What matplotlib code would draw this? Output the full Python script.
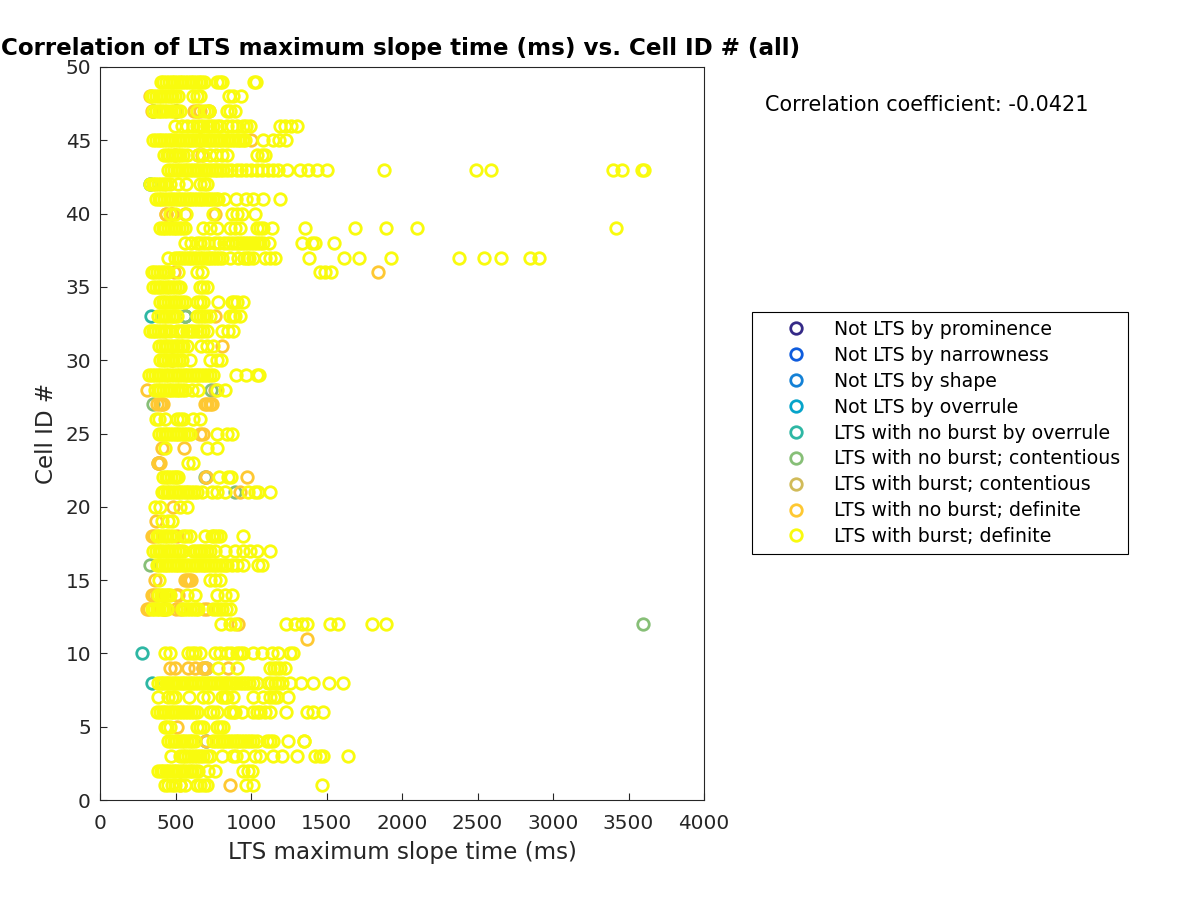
import matplotlib
matplotlib.use("Agg")
import matplotlib.pyplot as plt

title_text = "Correlation of LTS maximum slope time (ms) vs. Cell ID # (all)"
x_label = "LTS maximum slope time (ms)"
y_label = "Cell ID #"
corr_text = "Correlation coefficient: -0.0421"
x_ticks = [0, 500, 1000, 1500, 2000, 2500, 3000, 3500, 4000]
y_ticks = [0, 5, 10, 15, 20, 25, 30, 35, 40, 45, 50]

labels = ["Not LTS by prominence", "Not LTS by narrowness", "Not LTS by shape",
          "Not LTS by overrule", "LTS with no burst by overrule",
          "LTS with no burst; contentious", "LTS with burst; contentious",
          "LTS with no burst; definite", "LTS with burst; definite"]
colors = ["#352a87", "#0f5cdd", "#1481d6", "#06a4ca", "#2eb7a4",
          "#87bf77", "#d1bb59", "#fec832", "#f9fb0e"]

# Sparse classes: (time, cell id)
overrule_nb_t = [335, 280, 342, 331, 350, 700, 560]
overrule_nb_id = [33, 10, 8, 42, 47, 4, 33]
contentious_nb_t = [3595, 563, 353, 735, 697, 894, 331, 503, 700, 393, 560]
contentious_nb_id = [12, 33, 27, 28, 22, 21, 16, 47, 9, 23, 33]
contentious_b_t = [500, 680, 700, 430, 385, 760]
contentious_b_id = [47, 9, 22, 13, 23, 28]
definite_nb_t = [331, 342, 640, 660, 497, 440, 651, 673, 1839, 761, 810, 309, 375, 395, 408, 420,
                 695, 710, 728, 745, 662, 684, 408, 558, 386, 400, 702, 971, 927, 486, 371, 342,
                 355, 508, 364, 563, 575, 590, 605, 342, 358, 375, 500, 515, 309, 325, 420, 505,
                 690, 710, 916, 1371, 464, 497, 585, 629, 680, 700, 850, 508, 440, 470, 480, 560,
                 490, 861, 530, 700, 1000, 620, 660, 720, 475, 760, 530]
definite_nb_id = [48, 47, 47, 45, 44, 40, 44, 44, 36, 33, 31, 28, 27, 27, 27, 27,
                  27, 27, 27, 27, 25, 25, 24, 24, 23, 23, 22, 22, 21, 20, 19, 18,
                  18, 18, 15, 15, 15, 15, 15, 14, 14, 14, 14, 14, 13, 13, 13, 13,
                  13, 13, 12, 11, 9, 9, 9, 9, 9, 9, 9, 5, 40, 40, 40, 40,
                  36, 1, 1, 4, 45, 47, 47, 47, 30, 40, 13]

# Largest class: times of "LTS with burst; definite" for each cell
c01 = [430, 450, 475, 495, 530, 563, 640, 665, 690, 706, 965, 1015, 1468]
c02 = [386, 402, 418, 436, 452, 470, 488, 505, 522, 540, 558, 575, 593, 610, 630, 651, 717, 762, 949, 982, 1004]
c03 = [468, 530, 548, 566, 585, 605, 625, 645, 665, 685, 706, 728, 806, 883, 900, 949, 1027, 1060, 1148, 1203, 1302, 1424, 1455, 1479, 1645]
c04 = [453, 470, 488, 505, 522, 540, 558, 575, 595, 612, 629, 750, 768, 785, 805, 823, 840, 860, 880, 898, 915, 935, 955, 975, 995, 1015, 1038, 1105, 1126, 1148, 1247, 1351, 1353]
c05 = [430, 445, 464, 640, 660, 684, 773, 795, 817]
c06 = [380, 398, 415, 432, 450, 468, 486, 505, 522, 540, 560, 580, 600, 620, 640, 728, 750, 773, 861, 880, 894, 938, 1015, 1040, 1060, 1090, 1126, 1232, 1369, 1413, 1479]
c07 = [386, 453, 480, 497, 592, 684, 717, 806, 825, 839, 883, 1011, 1082, 1126, 1150, 1170, 1247]
c08 = [386, 402, 418, 435, 452, 470, 488, 505, 522, 540, 558, 576, 594, 612, 630, 648, 666, 684, 702, 720, 738, 756, 774, 792, 810, 828, 839, 860, 883, 900, 925, 945, 965, 985, 1010, 1038, 1115, 1135, 1159, 1180, 1203, 1258, 1329, 1408, 1517, 1611]
c09 = [784, 905, 1126, 1150, 1170, 1195, 1225]
c10 = [430, 464, 585, 610, 629, 662, 762, 795, 839, 870, 905, 925, 949, 1015, 1071, 1137, 1181, 1258, 1280]
c12 = [799, 861, 894, 1230, 1291, 1336, 1369, 1523, 1578, 1799, 1894]
c13 = [342, 358, 375, 392, 410, 425, 441, 541, 558, 575, 595, 615, 635, 651, 751, 770, 790, 810, 835, 861]
c14 = [386, 402, 418, 435, 450, 464, 574, 629, 773, 828, 872]
c15 = [393, 728, 762, 795]
c16 = [375, 392, 410, 428, 446, 464, 482, 500, 518, 536, 554, 572, 590, 608, 626, 644, 662, 680, 698, 716, 734, 752, 770, 788, 806, 825, 839, 872, 905, 949, 1049, 1071]
c17 = [353, 370, 388, 406, 424, 442, 460, 478, 496, 514, 532, 552, 618, 636, 654, 672, 690, 710, 730, 762, 828, 894, 949, 993, 1037, 1126]
c18 = [375, 392, 410, 428, 446, 465, 486, 552, 570, 596, 695, 739, 755, 773, 795, 945]
c19 = [408, 453, 475]
c20 = [364, 397, 530, 574]
c21 = [408, 425, 442, 460, 478, 496, 514, 532, 550, 568, 586, 604, 622, 640, 673, 740, 773, 828, 982, 1027, 1049, 1126]
c22 = [419, 436, 452, 470, 488, 505, 519, 790, 850, 865]
c23 = [585, 614]
c24 = [430, 711, 773]
c25 = [393, 410, 428, 446, 464, 482, 500, 518, 536, 554, 575, 596, 777, 839, 872]
c26 = [371, 390, 430, 508, 530, 552, 618, 662]
c28 = [364, 382, 400, 418, 436, 454, 472, 490, 508, 526, 544, 563, 607, 651, 773, 828]
c29 = [327, 345, 363, 381, 399, 417, 435, 453, 471, 489, 507, 525, 543, 561, 579, 597, 615, 633, 651, 669, 690, 710, 730, 750, 901, 967, 1042, 1055]
c30 = [397, 415, 432, 450, 468, 486, 505, 523, 541, 596, 728, 773, 799]
c31 = [393, 410, 428, 446, 464, 482, 500, 518, 535, 552, 574, 669, 706, 750]
c32 = [331, 349, 367, 385, 403, 421, 440, 464, 508, 530, 552, 574, 596, 618, 640, 665, 685, 706, 806, 850, 883]
c33 = [386, 404, 422, 440, 458, 476, 492, 508, 640, 660, 684, 705, 728, 861, 880, 894, 927]
c34 = [397, 415, 433, 451, 469, 487, 505, 523, 541, 563, 640, 660, 684, 779, 872, 890, 905, 949]
c35 = [353, 370, 388, 406, 424, 442, 460, 478, 496, 514, 530, 662, 684, 706]
c36 = [342, 360, 378, 396, 414, 432, 453, 519, 640, 673, 1457, 1490, 1528]
c37 = [453, 497, 515, 533, 551, 569, 587, 605, 623, 641, 659, 677, 695, 713, 731, 749, 767, 785, 806, 861, 916, 955, 971, 990, 1015, 1093, 1126, 1159, 1386, 1618, 1715, 1925, 2380, 2545, 2655, 2850, 2910]
c38 = [563, 605, 640, 665, 690, 717, 760, 790, 820, 850, 875, 900, 920, 940, 960, 980, 1000, 1020, 1040, 1060, 1082, 1121, 1336, 1402, 1424, 1552]
c39 = [397, 415, 433, 451, 469, 487, 505, 523, 541, 563, 684, 728, 773, 861, 894, 927, 1038, 1060, 1082, 1137, 1358, 1689, 1894, 2097, 3420]
c40 = [464, 497, 570, 750, 872, 905, 938, 1027]
c41 = [371, 389, 407, 425, 443, 461, 479, 497, 515, 533, 551, 569, 587, 605, 623, 641, 659, 677, 695, 713, 731, 749, 767, 784, 821, 901, 967, 1011, 1082, 1192]
c42 = [331, 349, 367, 385, 403, 421, 440, 464, 519, 570, 662, 690, 711]
c43 = [453, 471, 489, 507, 525, 543, 561, 579, 597, 615, 633, 651, 669, 687, 705, 723, 741, 759, 777, 795, 813, 840, 870, 905, 935, 970, 1000, 1040, 1075, 1110, 1145, 1180, 1236, 1325, 1380, 1435, 1501, 1883, 2490, 2590, 3400, 3460, 3590, 3600]
c44 = [424, 442, 460, 478, 496, 514, 532, 550, 578, 651, 684, 728, 770, 810, 839, 1037, 1071, 1093]
c45 = [353, 371, 389, 407, 425, 443, 461, 479, 497, 515, 533, 551, 569, 587, 605, 623, 641, 659, 677, 695, 713, 731, 749, 767, 785, 803, 821, 839, 857, 875, 893, 911, 929, 945, 960, 1082, 1148, 1188, 1232]
c46 = [497, 541, 578, 618, 640, 662, 685, 706, 730, 751, 775, 795, 839, 872, 909, 949, 970, 993, 1192, 1225, 1263, 1302]
c47 = [352, 370, 388, 405, 425, 445, 470, 490, 510, 530, 640, 690, 706, 725, 843, 860, 894]
c48 = [335, 353, 371, 389, 407, 425, 443, 461, 479, 497, 519, 618, 640, 662, 856, 883, 931]
c49 = [402, 420, 438, 456, 474, 492, 510, 528, 546, 564, 582, 600, 618, 636, 654, 672, 690, 777, 795, 810, 1020, 1030]

burst_ids = [1, 2, 3, 4, 5, 6, 7, 8, 9, 10, 12, 13, 14, 15, 16, 17, 18, 19, 20, 21, 22, 23, 24, 25, 26,
             28, 29, 30, 31, 32, 33, 34, 35, 36, 37, 38, 39, 40, 41, 42, 43, 44, 45, 46, 47, 48, 49]
burst_times = [c01, c02, c03, c04, c05, c06, c07, c08, c09, c10, c12, c13, c14, c15, c16, c17, c18, c19,
               c20, c21, c22, c23, c24, c25, c26, c28, c29, c30, c31, c32, c33, c34, c35, c36, c37, c38,
               c39, c40, c41, c42, c43, c44, c45, c46, c47, c48, c49]

burst_t = [t for ts in burst_times for t in ts]
burst_id = [cid for cid, ts in zip(burst_ids, burst_times) for _ in ts]

series = [([], []), ([], []), ([], []), ([], []),
          (overrule_nb_t, overrule_nb_id), (contentious_nb_t, contentious_nb_id),
          (contentious_b_t, contentious_b_id), (definite_nb_t, definite_nb_id),
          (burst_t, burst_id)]

INK = "#262626"
fig = plt.figure(figsize=(12, 9), dpi=100)
ax = fig.add_axes([100 / 1200, 1 - 800 / 900, 604 / 1200, 733 / 900])

for (xs, ys), col, lab in zip(series, colors, labels):
    ax.plot(xs, ys, linestyle="none", marker="o", markersize=8.3, markerfacecolor="none",
            markeredgecolor=col, markeredgewidth=2.0, label=lab)

ax.set_xlim(0, 4000)
ax.set_ylim(0, 50)
ax.set_xticks(x_ticks)
ax.set_yticks(y_ticks)
ax.tick_params(direction="in", length=5, width=0.8, color=INK, labelcolor=INK, labelsize=14.4)
ax.tick_params(axis="x", pad=10)
ax.tick_params(axis="y", pad=6.5)
for s in ax.spines.values():
    s.set_color(INK)
    s.set_linewidth(0.8)
ax.set_xlabel(x_label, fontsize=16.6, color=INK, labelpad=6.2)
ax.set_ylabel(y_label, fontsize=16.6, color=INK, labelpad=5)

fig.text(1 / 1200, 1 - 48 / 900, title_text, fontsize=16.6, fontweight="bold", color="black", va="center", ha="left")
fig.text(765 / 1200, 1 - 105 / 900, corr_text, fontsize=14.95, color="black", va="center", ha="left")

leg = ax.legend(loc="upper left", bbox_to_anchor=(752 / 1200, 1 - 312 / 900),
                bbox_transform=fig.transFigure, borderaxespad=0, fontsize=13.6,
                frameon=True, fancybox=False, edgecolor="black", framealpha=1,
                handlelength=3.85, handletextpad=0.05, borderpad=0.42, labelspacing=0.365)
leg.get_frame().set_linewidth(0.8)
for t in leg.get_texts():
    t.set_color("black")

fig.savefig("out.png", dpi=100)
